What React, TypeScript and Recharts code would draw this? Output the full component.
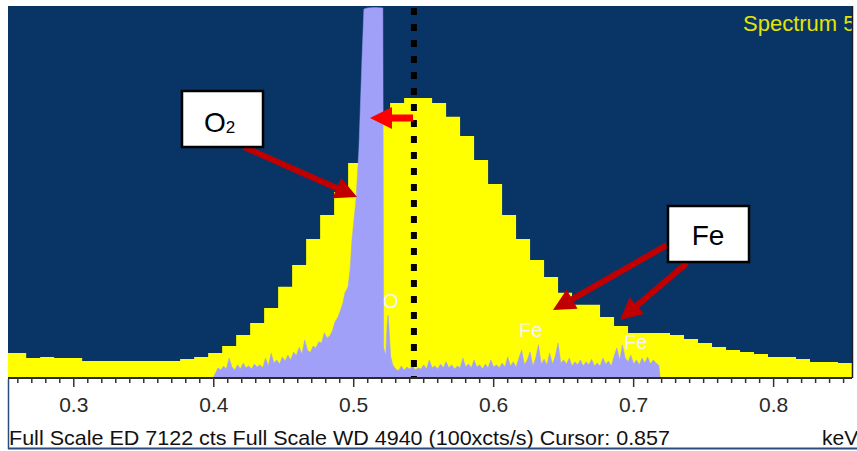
import { ComposedChart, Area, XAxis, YAxis, CartesianGrid, ReferenceLine } from "recharts";

const W = 857;
const H = 451;

const BG = "#093566";
const ED_FILL = "#ffff00";
const WD_FILL = "#a0a0f8";
const ARROW_DARK = "#c00000";
const ARROW_BRIGHT = "#ff0000";
const FONT = "'Liberation Sans', Arial, sans-serif";

const ED_FULL_SCALE = 7122;
const WD_FULL_SCALE = 4940;
const KEV_MIN = 0.253;
const KEV_MAX = 0.856;
const CURSOR_KEV = 0.543;

const MAJOR_TICKS = [0.3, 0.4, 0.5, 0.6, 0.7, 0.8];

// ED spectrum, 10 eV channels (channel start, counts)
const ED_KEV = [
  0.253, 0.266, 0.276, 0.286, 0.296, 0.306, 0.316, 0.326, 0.336, 0.346,
  0.356, 0.366, 0.376, 0.386, 0.396, 0.406, 0.416, 0.426, 0.436, 0.446,
  0.456, 0.466, 0.476, 0.486, 0.496, 0.506, 0.516, 0.526, 0.536, 0.546,
  0.556, 0.566, 0.576, 0.586, 0.596, 0.606, 0.616, 0.626, 0.636, 0.646,
  0.656, 0.666, 0.676, 0.686, 0.696, 0.706, 0.716, 0.726, 0.736, 0.746,
  0.756, 0.766, 0.776, 0.786, 0.796, 0.806, 0.816, 0.826, 0.836, 0.846,
  0.856,
];
const ED_CTS = [
  480, 385, 400, 385, 385, 325, 325, 325, 325, 325,
  325, 325, 365, 400, 480, 615, 825, 1055, 1340, 1745,
  2165, 2660, 3120, 3560, 4115, 4650, 5095, 5265, 5360, 5360,
  5265, 5000, 4635, 4175, 3715, 3120, 2660, 2260, 1935, 1630,
  1400, 1400, 1170, 995, 860, 860, 860, 825, 745, 670,
  595, 535, 500, 460, 400, 400, 365, 305, 305, 285,
  285,
];

// WD spectrum (keV, 100x cts/s scaled to full scale 4940)
const WD_KEV = [
  0.3995, 0.401, 0.403, 0.405, 0.407, 0.409, 0.411, 0.413, 0.415, 0.417,
  0.419, 0.421, 0.423, 0.425, 0.427, 0.429, 0.431, 0.433, 0.435, 0.437,
  0.439, 0.441, 0.443, 0.445, 0.447, 0.449, 0.451, 0.453, 0.455, 0.457,
  0.459, 0.461, 0.463, 0.465, 0.467, 0.469, 0.471, 0.473, 0.475, 0.477,
  0.479, 0.481, 0.483, 0.485, 0.4866, 0.4885, 0.4901, 0.4923, 0.4937, 0.4959,
  0.4975, 0.4987, 0.5016, 0.5037, 0.5059, 0.5073, 0.51, 0.515, 0.5208, 0.5214,
  0.5229, 0.5239, 0.5246, 0.5254, 0.5264, 0.5279, 0.53, 0.532, 0.534, 0.536,
  0.538, 0.54, 0.542, 0.544, 0.546, 0.548, 0.55, 0.552, 0.554, 0.556,
  0.558, 0.56, 0.562, 0.564, 0.566, 0.568, 0.57, 0.572, 0.574, 0.576,
  0.578, 0.58, 0.582, 0.584, 0.586, 0.588, 0.59, 0.592, 0.594, 0.596,
  0.598, 0.6, 0.602, 0.604, 0.606, 0.608, 0.61, 0.612, 0.614, 0.616,
  0.618, 0.62, 0.622, 0.624, 0.626, 0.628, 0.63, 0.632, 0.634, 0.636,
  0.638, 0.64, 0.642, 0.644, 0.646, 0.648, 0.65, 0.652, 0.654, 0.656,
  0.658, 0.66, 0.662, 0.664, 0.666, 0.668, 0.67, 0.672, 0.674, 0.676,
  0.678, 0.68, 0.682, 0.684, 0.686, 0.688, 0.69, 0.692, 0.694, 0.696,
  0.698, 0.7, 0.702, 0.704, 0.706, 0.708, 0.71, 0.712, 0.714, 0.716,
  0.718, 0.719,
];
const WD_CTS = [
  0, 55, 135, 105, 160, 120, 265, 145, 105, 175,
  120, 200, 135, 160, 120, 185, 145, 175, 135, 265,
  160, 330, 200, 240, 185, 280, 225, 305, 240, 345,
  300, 410, 320, 505, 370, 340, 425, 400, 480, 465,
  600, 530, 560, 640, 745, 800, 875, 1000, 1130, 1210,
  1460, 1830, 2365, 3030, 4225, 4900, 4915, 4920, 4915, 400,
  300, 730, 835, 600, 290, 175, 120, 95, 160, 105,
  145, 120, 160, 105, 135, 120, 175, 120, 240, 135,
  160, 120, 185, 135, 215, 135, 175, 120, 160, 135,
  265, 145, 185, 135, 240, 145, 175, 120, 185, 135,
  240, 145, 175, 135, 200, 145, 280, 160, 215, 145,
  265, 370, 175, 240, 345, 160, 265, 440, 185, 250,
  175, 330, 185, 290, 465, 200, 240, 185, 265, 160,
  215, 175, 240, 160, 215, 175, 250, 160, 200, 160,
  265, 185, 225, 160, 290, 400, 240, 440, 265, 215,
  305, 185, 240, 175, 265, 200, 280, 185, 240, 200,
  170, 0,
];

const edData = ED_KEV.map((kev, i) => ({ kev, cts: ED_CTS[i] }));
const wdData = WD_KEV.map((kev, i) => ({ kev, cts: WD_CTS[i] }));

// 10 eV minor ticks across the window
const allTicks: number[] = [];
for (let t = 26; t <= 85; t++) allTicks.push(t / 100);

function KevTick(props: any) {
  const { x, y, payload } = props;
  const v = payload.value as number;
  const major = MAJOR_TICKS.some((t) => Math.abs(t - v) < 1e-6);
  return (
    <g>
      <line x1={x} y1={y} x2={x} y2={y + (major ? 9 : 5)} stroke="#333" strokeWidth={1.5} />
      {major && (
        <text x={x} y={y + 34} textAnchor="middle" fontSize={21} fill="#2a2a2a" fontFamily={FONT}>
          {v.toFixed(1)}
        </text>
      )}
    </g>
  );
}

function Arrow({ x1, y1, x2, y2, color, width, head, half }: any) {
  const dx = x2 - x1;
  const dy = y2 - y1;
  const len = Math.sqrt(dx * dx + dy * dy);
  const ux = dx / len;
  const uy = dy / len;
  const bx = x2 - ux * head;
  const by = y2 - uy * head;
  const pts = [
    `${x2},${y2}`,
    `${bx - uy * half},${by + ux * half}`,
    `${bx + uy * half},${by - ux * half}`,
  ].join(" ");
  return (
    <g>
      <line x1={x1} y1={y1} x2={bx + ux * 2} y2={by + uy * 2} stroke={color} strokeWidth={width} />
      <polygon points={pts} fill={color} />
    </g>
  );
}

function Annotations() {
  return (
    <svg width={W} height={H} style={{ position: "absolute", left: 0, top: 0, pointerEvents: "none" }}>
      <defs>
        <clipPath id="plotClip">
          <rect x={8} y={6} width={844} height={372} />
        </clipPath>
      </defs>
      <text x={743} y={31} fontSize={22} fill="#e4e400" fontFamily={FONT} clipPath="url(#plotClip)">
        Spectrum 5
      </text>
      <line x1={852.5} y1={6} x2={852.5} y2={378} stroke="#1a1d2a" strokeWidth={1.5} />

      <text x={383} y={308} fontSize={20} fill="#f4f4ff" fontFamily={FONT}>O</text>
      <text x={519} y={337} fontSize={20} fill="#f4f4ff" fontFamily={FONT}>Fe</text>
      <text x={624} y={349} fontSize={20} fill="#f4f4ff" fontFamily={FONT}>Fe</text>

      <Arrow x1={244} y1={147} x2={357} y2={197} color={ARROW_DARK} width={6} head={22} half={11} />
      <Arrow x1={413} y1={118} x2={370} y2={118} color={ARROW_BRIGHT} width={7} head={22} half={11} />
      <Arrow x1={667} y1={245} x2={553} y2={310} color={ARROW_DARK} width={6} head={22} half={11} />
      <Arrow x1={687} y1={263} x2={620} y2={320} color={ARROW_DARK} width={6} head={22} half={11} />

      <rect x={182} y={91} width={81} height={56} fill="#fff" stroke="#000" strokeWidth={2.5} />
      <text x={204} y={132} fontSize={28} fill="#000" fontFamily={FONT}>
        O<tspan fontSize={17} dy={1}>2</tspan>
      </text>

      <rect x={668} y={206} width={81} height={56} fill="#fff" stroke="#000" strokeWidth={2.5} />
      <text x={708} y={245} textAnchor="middle" fontSize={28} fill="#000" fontFamily={FONT}>Fe</text>

      <text x={9} y={445} fontSize={21} fill="#111" fontFamily={FONT} textLength={661} lengthAdjust="spacingAndGlyphs">
        Full Scale ED 7122 cts Full Scale WD 4940 (100xcts/s) Cursor: 0.857
      </text>
      <text x={822} y={445} fontSize={21} fill="#111" fontFamily={FONT}>keV</text>

      <line x1={8.5} y1={379} x2={8.5} y2={449} stroke="#2c4c80" strokeWidth={1.5} />
      <line x1={8} y1={448.5} x2={857} y2={448.5} stroke="#2c4c80" strokeWidth={2} />
    </svg>
  );
}

export default function App() {
  return (
    <div style={{ position: "absolute", left: 0, top: 0, width: W, height: H, background: "#fff" }}>
      <ComposedChart width={W} height={H} margin={{ top: 6, right: 5, bottom: 43, left: 8 }}>
        <CartesianGrid horizontal={false} vertical={false} fill={BG} fillOpacity={1} />
        <XAxis
          dataKey="kev"
          type="number"
          domain={[KEV_MIN, KEV_MAX]}
          allowDataOverflow
          ticks={allTicks}
          interval={0}
          height={30}
          tickSize={0}
          tickMargin={0}
          tickLine={false}
          axisLine={{ stroke: "#2a2a2a", strokeWidth: 2 }}
          tick={<KevTick />}
        />
        <YAxis yAxisId="ed" hide domain={[0, ED_FULL_SCALE]} allowDataOverflow />
        <YAxis yAxisId="wd" hide domain={[0, WD_FULL_SCALE]} allowDataOverflow />
        <Area
          yAxisId="ed"
          data={edData}
          dataKey="cts"
          type="stepAfter"
          fill={ED_FILL}
          fillOpacity={1}
          stroke="none"
          isAnimationActive={false}
        />
        <Area
          yAxisId="wd"
          data={wdData}
          dataKey="cts"
          type="linear"
          fill={WD_FILL}
          fillOpacity={1}
          stroke={WD_FILL}
          strokeWidth={0.5}
          isAnimationActive={false}
        />
        <ReferenceLine
          yAxisId="ed"
          x={CURSOR_KEV}
          stroke="#000"
          strokeWidth={6}
          strokeDasharray="7 9"
          strokeDashoffset={5}
        />
      </ComposedChart>
      <Annotations />
    </div>
  );
}
